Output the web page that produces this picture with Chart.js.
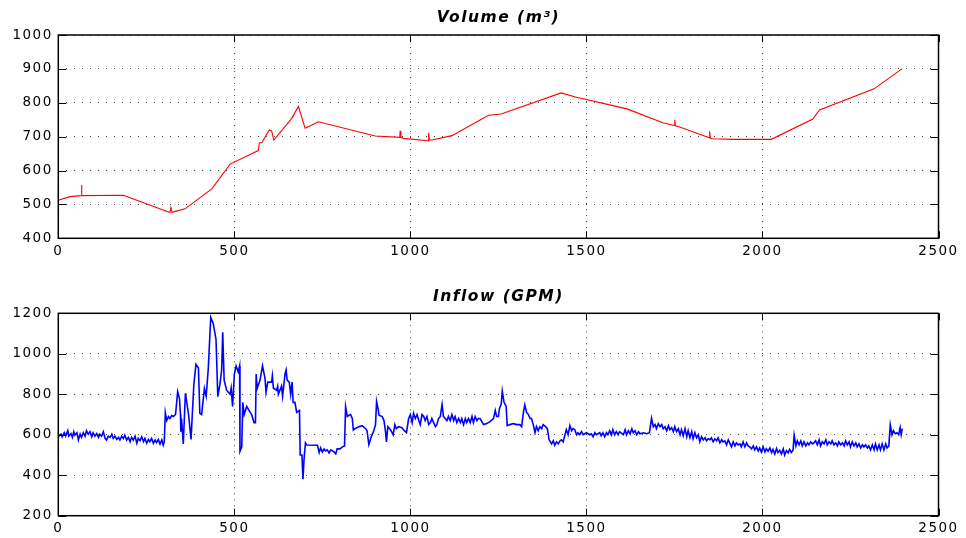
<!DOCTYPE html>
<html><head><meta charset="utf-8">
<script src="https://cdn.jsdelivr.net/npm/chart.js@4.4.1/dist/chart.umd.min.js"></script>
<style>
html,body{margin:0;padding:0;background:#fff;}
#wrap{position:relative;width:966px;height:538px;background:#fff;}
.box{position:absolute;left:0;width:966px;}
</style></head><body>
<div id="wrap">
<div class="box" style="top:0;height:270px"><canvas id="c1"></canvas></div>
<div class="box" style="top:270px;height:268px"><canvas id="c2"></canvas></div>
</div>
<script>
// ---- data ----
const xTicks = [0, 500, 1000, 1500, 2000, 2500];
const volumeTitle = 'Volume (m³)';
const inflowTitle = 'Inflow (GPM)';
const volumeTicks = [400, 500, 600, 700, 800, 900, 1000];
const inflowTicks = [200, 400, 600, 800, 1000, 1200];

const volumeX = [0,33,65,66,67,185,317,320,323,327,360,436,488,568,571,578,599,606,612,663,682,701,739,900,970,971,973,980,1051,1052,1054,1061,1118,1222,1258,1428,1469,1615,1719,1750,1751,1753,1761,1849,1850,1852,1858,1917,2025,2143,2162,2317,2396];
const volumeY = [512,523,526,557,526,527,476,491,476,478,487,546,619,659,682,682,720,717,690,754,789,725,744,702,698,717,698,695,688,711,690,690,703,763,767,829,817,782,740,733,750,732,730,697,715,695,694,692,692,752,779,841,900];

// inflow samples as [time, GPM]
const inflowSamples = [
[0,587],[3,598],[8,603],[11,590],[17,610],[21,593],[27,620],[30,593],[36,606],[40,587],[44,615],[47,598],[53,610],[57,574],[62,603],[66,587],[71,610],[76,593],[80,620],[85,603],[90,615],[95,590],[99,610],[104,593],[109,606],[114,587],[118,603],[123,593],[128,615],[133,582],[137,574],[142,593],[147,587],[152,603],[156,582],[161,593],[166,577],[171,587],[175,574],[180,593],[185,582],[189,598],[194,574],[199,587],[204,566],[208,587],[213,574],[218,593],[223,558],[227,582],[232,571],[237,590],[242,566],[246,582],[251,558],[256,577],[260,566],[265,582],[270,558],[275,574],[279,561],[284,577],[289,554],[294,574],[298,549],[301,566],[304,709],[308,670],[313,690],[317,680],[322,695],[327,690],[333,700],
[339,813],[344,780],[347,700],[348,615],[350,680],[355,554],[361,805],[370,700],[377,577],[385,849],[391,948],[398,930],[402,706],[407,700],[415,828],[420,790],[426,928],[433,1180],[440,1150],[448,1070],[453,788],[459,850],[464,920],[467,1106],[471,870],[478,820],[488,800],[491,830],[495,740],[500,900],[505,940],[511,910],[515,940],[516,518],[521,540],[524,760],[528,700],[535,740],[549,700],[556,660],[560,660],[562,900],[565,830],[573,870],[580,940],[587,880],[590,810],[595,860],[606,860],[608,890],[611,830],[620,820],[623,840],[625,800],[634,840],[637,790],[644,900],[647,920],[650,870],[656,860],[660,800],[664,860],[667,760],[672,760],[677,710],[685,720],[687,500],[692,500],[695,380],[698,480],[702,560],
[706,549],[736,548],[741,512],[745,535],[750,515],[755,530],[759,520],[764,525],[769,510],[774,525],[783,515],[788,505],[792,530],[800,530],[807,540],[813,545],[816,739],[821,690],[826,697],[830,700],[835,680],[838,623],[842,630],[854,640],[863,645],[873,630],[877,620],[882,552],[889,590],[896,620],[901,650],[904,764],[908,730],[911,697],[920,690],[925,670],[929,620],[932,565],[936,640],[941,630],[945,620],[951,600],[956,650],[960,630],[967,640],[976,635],[983,620],[989,610],[995,680],[1000,700],[1005,660],[1009,706],[1014,680],[1019,700],[1024,670],[1028,650],[1033,700],[1038,690],[1042,670],[1047,690],[1052,650],[1057,660],[1061,680],[1066,660],[1071,640],[1075,650],[1080,680],[1085,690],[1090,750],[1094,690],[1099,680],[1104,670],[1108,690],[1113,670],[1118,700],[1123,670],[1127,690],[1132,660],[1137,680],[1142,660],[1146,680],[1151,650],[1156,680],[1160,660],[1165,680],[1170,660],[1175,690],[1179,660],[1184,690],[1189,670],[1193,680],[1198,680],[1203,665],[1208,650],[1217,655],[1226,665],[1236,680],[1241,720],[1245,690],[1250,690],[1253,730],[1258,750],[1261,816],[1266,760],[1272,740],[1275,645],[1283,650],[1292,655],[1302,650],[1311,650],[1316,640],[1321,710],[1325,747],[1330,710],[1335,700],[1340,680],[1344,680],[1349,650],[1354,610],[1358,640],[1363,620],[1368,640],[1373,630],[1377,650],[1384,640],[1389,630],[1394,575],[1401,555],[1406,570],[1410,548],[1415,565],[1420,555],[1425,570],[1429,575],[1434,565],[1439,600],[1443,625],[1448,600],[1453,645],[1458,620],[1462,630],[1467,625],[1472,600],[1476,610],[1481,600],[1486,615],[1491,600],[1500,610],[1509,600],[1514,605],[1519,590],[1524,610],[1528,600],[1538,610],[1542,595],[1547,610],[1552,590],[1557,610],[1561,600],[1566,620],[1571,600],[1575,625],[1580,600],[1585,615],[1590,600],[1594,615],
[1605,600],[1610,625],[1614,600],[1619,620],[1624,605],[1629,630],[1633,610],[1638,620],[1643,600],[1648,615],[1652,605],[1662,610],[1671,605],[1679,610],[1685,681],[1690,640],[1695,650],[1699,630],[1704,655],[1709,640],[1714,650],[1718,630],[1723,640],[1728,620],[1733,645],[1737,625],[1742,635],[1747,615],[1751,640],[1756,615],[1761,630],[1766,600],[1770,625],[1775,595],[1780,630],[1785,590],[1789,620],[1794,585],[1799,615],[1803,580],[1808,610],[1813,585],[1818,600],[1822,565],[1827,590],[1832,575],[1837,585],[1841,570],[1846,580],[1851,575],[1855,585],[1860,565],[1865,580],[1870,570],[1874,585],[1879,560],[1884,575],[1888,565],[1893,570],[1898,550],[1903,575],[1907,560],[1912,540],[1917,565],[1922,545],[1926,560],[1931,550],[1936,555],[1940,540],[1945,565],[1950,540],[1955,560],[1959,545],[1964,540],[1969,530],[1974,545],[1978,525],[1983,540],[1988,520],[1992,535],[1997,515],[2002,540],[2007,515],[2011,530],[2016,518],[2021,535],[2026,512],[2030,528],[2035,505],[2040,532],[2044,512],[2049,522],[2054,505],[2059,530],[2063,500],[2068,522],[2073,510],[2077,528],[2082,512],[2087,525],[2090,597],[2095,545],[2099,570],[2104,550],[2109,570],[2113,545],[2118,565],[2123,545],[2128,560],[2132,550],[2137,565],[2142,555],[2146,560],[2151,570],[2156,550],[2161,575],[2165,545],[2170,565],[2175,555],[2180,575],[2184,550],[2189,565],[2194,555],[2198,570],[2203,550],[2208,560],[2213,545],[2217,565],[2222,550],[2227,560],[2232,545],[2236,570],[2241,550],[2246,565],[2250,540],[2255,565],[2260,545],[2265,560],[2269,540],[2274,555],[2279,535],[2284,550],[2288,540],[2293,550],[2298,535],[2302,545],[2307,525],[2312,550],[2317,525],[2321,555],[2326,525],[2331,550],[2335,525],[2340,555],[2345,525],[2350,555],[2354,535],[2359,545],[2363,649],[2368,600],[2372,620],[2377,605],[2382,610],[2387,600],[2391,635],[2394,600],[2397,630]
];

// ---- rendering ----
const FONT = 'DejaVu Sans';

const spacing = { id: 'spacing', beforeDraw(chart) { chart.ctx.letterSpacing = '1.5px'; } };

const frame = {
  id: 'frame',
  afterDraw(chart) {
    const { ctx, chartArea: a, scales: { x, y } } = chart;
    ctx.save();
    ctx.strokeStyle = '#000';
    ctx.lineWidth = 1;
    ctx.beginPath();
    x.ticks.forEach(t => {
      const px = Math.round(x.getPixelForValue(t.value)) + 0.5;
      ctx.moveTo(px, a.bottom); ctx.lineTo(px, a.bottom - 7);
      ctx.moveTo(px, a.top); ctx.lineTo(px, a.top + 7);
    });
    y.ticks.forEach(t => {
      const py = Math.round(y.getPixelForValue(t.value)) + 0.5;
      ctx.moveTo(a.left, py); ctx.lineTo(a.left + 8, py);
      ctx.moveTo(a.right, py); ctx.lineTo(a.right - 8, py);
    });
    ctx.stroke();
    ctx.lineWidth = 1.5;
    ctx.strokeRect(a.left, a.top, a.right - a.left, a.bottom - a.top);
    ctx.restore();
  }
};

function makeChart(id, cfg) {
  const ticksFrom = (list) => (scale) => { scale.ticks = list.map(v => ({ value: v })); };
  const plain = (v) => String(v);
  return new Chart(document.getElementById(id), {
    type: 'line',
    data: { datasets: [{
      data: cfg.points,
      borderColor: cfg.color,
      borderWidth: cfg.width,
      pointRadius: 0,
      tension: 0,
      fill: false
    }] },
    options: {
      responsive: true,
      maintainAspectRatio: false,
      animation: false,
      layout: { padding: { left: 0, right: 27.5, top: 0, bottom: 0 } },
      plugins: {
        legend: { display: false },
        tooltip: { enabled: false },
        title: {
          display: true, fullSize: false, text: cfg.title, color: '#000',
          font: { family: FONT, size: 15.5, style: 'italic', weight: 'bold', lineHeight: 1.2 },
          padding: { top: cfg.tTop, bottom: cfg.tBottom }
        }
      },
      scales: {
        x: {
          type: 'linear', min: xTicks[0], max: xTicks[xTicks.length - 1],
          afterBuildTicks: ticksFrom(xTicks),
          ticks: { color: '#000', font: { family: FONT, size: 13.5 }, padding: 5, maxRotation: 0, autoSkip: false, callback: plain },
          grid: { color: '#444', lineWidth: 1, drawTicks: false, borderDash: [1, 5] },
          border: { display: false, dash: [1, 5] },
          afterFit(s) { s.height = cfg.xh; }
        },
        y: {
          type: 'linear', min: cfg.yTicks[0], max: cfg.yTicks[cfg.yTicks.length - 1],
          afterBuildTicks: ticksFrom(cfg.yTicks),
          ticks: { color: '#000', font: { family: FONT, size: 13.5 }, padding: 5.5, autoSkip: false, callback: plain },
          grid: { color: '#444', lineWidth: 1, drawTicks: false, borderDash: [1, 7] },
          border: { display: false, dash: [1, 7] },
          afterFit(s) { s.width = 58.3; }
        }
      }
    },
    plugins: [spacing, frame]
  });
}

makeChart('c1', {
  title: volumeTitle,
  points: volumeX.map((t, i) => ({ x: t, y: volumeY[i] })),
  color: '#ff0000', width: 1.1,
  yTicks: volumeTicks,
  tTop: 9.0, tBottom: 7.4, xh: 31.7
});

makeChart('c2', {
  title: inflowTitle,
  points: inflowSamples.map(p => ({ x: p[0], y: p[1] })),
  color: '#0000ff', width: 1.6,
  yTicks: inflowTicks,
  tTop: 17.4, tBottom: 7.3, xh: 22.3
});
</script>
</body></html>
